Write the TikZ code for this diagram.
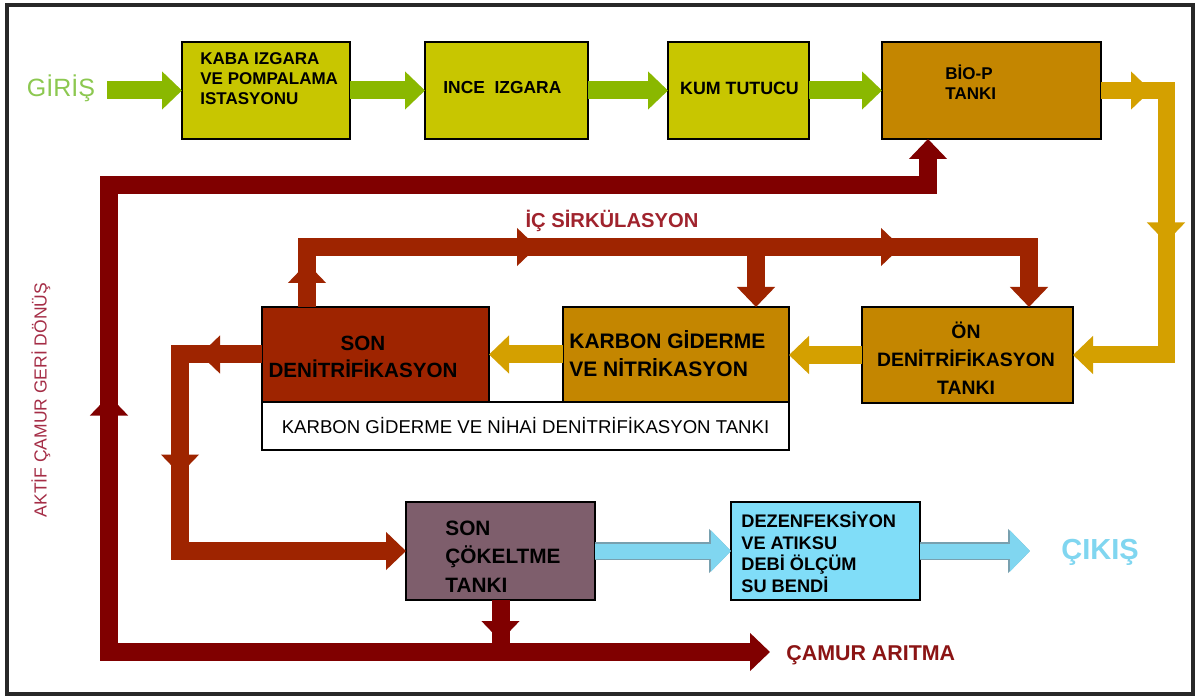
\documentclass[tikz,border=0pt]{standalone}
\usepackage{fontspec}
\setmainfont{Liberation Sans}
\usetikzlibrary{arrows.meta,decorations.markings,calc}
\definecolor{yel}{RGB}{200,198,0}
\definecolor{grn}{RGB}{138,184,0}
\definecolor{orgbox}{RGB}{196,134,0}
\definecolor{orgarr}{RGB}{212,160,0}
\definecolor{rust}{RGB}{158,36,0}
\definecolor{dred}{RGB}{128,0,0}
\definecolor{mauve}{RGB}{126,94,108}
\definecolor{cyanbox}{RGB}{128,221,248}
\definecolor{cyanarr}{RGB}{128,214,240}
\definecolor{cyanedge}{RGB}{120,160,175}
\definecolor{girisc}{RGB}{140,200,80}
\definecolor{lblred}{RGB}{165,45,70}
\definecolor{icred}{RGB}{160,35,45}
\definecolor{camurc}{RGB}{139,20,20}
\definecolor{frame}{RGB}{40,40,40}
\begin{document}
\begin{tikzpicture}[x=0.5pt,y=-0.5pt,
  box/.style={draw=black, line width=1.4pt, inner sep=0pt, outer sep=0pt, anchor=north west},
  txt/.style={inner sep=0pt, text=black},
  flow/.style={line width=9pt, line join=miter},
  tip/.style={-{Triangle[length=10pt,width=18.5pt]}},
  mid/.style={postaction={decorate,decoration={markings,mark=at position #1 with {\arrow{Triangle[length=10pt,width=18.5pt]}}}}},
  bedge/.style={line width=8.6pt, draw=cyanedge, -{Triangle[length=11pt,width=21.5pt]}},
  bflow/.style={line width=7.5pt, draw=cyanarr, -{Triangle[length=10pt,width=20pt]}},
]
\useasboundingbox (0,0) rectangle (1197,699);
\fill[white] (0,0) rectangle (1197,699);
\draw[line width=1.6pt, draw=frame] (7,5) rectangle (1193,694);

% boxes
\node[box, fill=yel, minimum width=84pt, minimum height=48.5pt] (kaba) at (182,42) {};
\node[box, fill=yel, minimum width=81.5pt, minimum height=48.5pt] (ince) at (425,42) {};
\node[box, fill=yel, minimum width=70.5pt, minimum height=48.5pt] (kum) at (668,42) {};
\node[box, fill=orgbox, minimum width=109.5pt, minimum height=48.5pt] (biop) at (882,42) {};
\node[box, fill=orgbox, minimum width=105.5pt, minimum height=48pt] (on) at (862,307) {};
\node[box, fill=orgbox, minimum width=113pt, minimum height=47.5pt] (karbon) at (563,307) {};
\node[box, fill=rust, minimum width=113.5pt, minimum height=47.5pt] (sonden) at (262,307) {};
\node[box, fill=white, minimum width=263.5pt, minimum height=24pt,
      font=\fontsize{9.3}{11}\selectfont] (nihai) at (262,402) {KARBON GİDERME VE NİHAİ DENİTRİFİKASYON TANKI};
\node[box, fill=mauve, minimum width=94.5pt, minimum height=49pt] (cokelt) at (406,502) {};
\node[box, fill=cyanbox, minimum width=94.5pt, minimum height=49pt] (dez) at (731,502) {};

% box texts
\node[txt, anchor=west, align=left, font=\bfseries\fontsize{8.5}{10}\selectfont] (kabaT) at (200,78.5) {KABA IZGARA\\VE POMPALAMA\\ISTASYONU};
\node[txt, anchor=west, font=\bfseries\fontsize{8.7}{10}\selectfont] (inceT) at (443,88) {INCE\ \ IZGARA};
\node[txt, font=\bfseries\fontsize{8.9}{10}\selectfont] (kumT) at (739.5,88) {KUM TUTUCU};
\node[txt, anchor=west, align=left, font=\bfseries\fontsize{8.5}{10}\selectfont] (biopT) at (945,82) {BİO-P\\TANKI};
\node[txt, align=center, font=\bfseries\fontsize{9.7}{14}\selectfont] (onT) at (966,358) {ÖN\\DENİTRİFİKASYON\\TANKI};
\node[txt, anchor=west, align=left, font=\bfseries\fontsize{10.5}{14}\selectfont] (karbonT) at (569,354) {KARBON GİDERME\\VE NİTRİKASYON};
\node[txt, align=center, font=\bfseries\fontsize{10.3}{13.5}\selectfont] (sondenT) at (363,357) {SON\\DENİTRİFİKASYON};
\node[txt, anchor=west, align=left, font=\bfseries\fontsize{10.4}{14.25}\selectfont] (cokeltT) at (445,556.5) {SON\\ÇÖKELTME\\TANKI};
\node[txt, anchor=west, align=left, font=\bfseries\fontsize{9.1}{10.75}\selectfont] (dezT) at (741,552.5) {DEZENFEKSİYON\\VE ATIKSU\\DEBİ ÖLÇÜM\\SU BENDİ};

% free labels
\node[txt, text=girisc, font=\fontsize{12.5}{14}\selectfont] (giris) at (61,88) {GİRİŞ};
\node[txt, text=cyanarr, font=\bfseries\fontsize{14.5}{16}\selectfont] (cikis) at (1100,552) {ÇIKIŞ};
\node[txt, text=icred, font=\bfseries\fontsize{10.1}{12}\selectfont] (ic) at (612,221) {İÇ SİRKÜLASYON};
\node[txt, text=camurc, font=\bfseries\fontsize{10.7}{12}\selectfont, anchor=west] (camur) at (786,655) {ÇAMUR ARITMA};
\node[txt, text=lblred, rotate=90, font=\fontsize{8.75}{10}\selectfont] (aktif) at (41,400) {AKTİF ÇAMUR GERİ DÖNÜŞ};

% coordinates
\coordinate (in) at (107,90.5);
\coordinate (oc) at (1166,90.5);
\coordinate (rc) at (180,0);
\coordinate (icl) at (307,247);
\coordinate (icr) at (1029,247);
\coordinate (icb) at (756,247);
\coordinate (bl) at (109,652);
\coordinate (tl) at (109,185);
\coordinate (br) at (928,185);
\coordinate (out) at (1030,551);

% green flow
\draw[flow, tip, draw=grn] (in) -- (kaba.west);
\draw[flow, tip, draw=grn] (kaba.east) -- (ince.west);
\draw[flow, tip, draw=grn] (ince.east) -- (kum.west);
\draw[flow, tip, draw=grn] (kum.east) -- (biop.west);

% orange flow
\draw[flow, tip, draw=orgarr, line width=8.5pt, mid=25pt, mid=108.5pt]
  (biop.east) -- (oc) -- (oc |- on.east) -- (on.east);
\draw[flow, tip, draw=orgarr] (on.west) -- (on.west -| karbon.east);
\draw[flow, tip, draw=orgarr] (karbon.west) -- (karbon.west -| sonden.east);

% rust flows
\draw[flow, tip, draw=rust, mid=31pt, mid=101pt]
  (sonden.west) -- (sonden.west -| rc) -- (rc |- cokelt.west) -- (cokelt.west);
\draw[flow, tip, draw=rust, mid=22pt, mid=145pt, mid=327pt]
  (sonden.north -| icl) -- (icl) -- (icr) -- (icr |- on.north);
\draw[flow, tip, draw=rust] (icb) -- (icb |- karbon.north);

% dark red sludge
\draw[flow, draw=dred, mid=20.5pt] (cokelt.south) -- (cokelt.south |- bl);
\draw[flow, tip, draw=dred, mid=324pt]
  (cokelt.south |- bl) -- (bl) -- (tl) -- (br) -- (br |- biop.south);
\draw[flow, tip, draw=dred] (bl) -- ($(bl -| camur.west)+(-16,0)$);

% blue flow
\draw[bedge] (cokelt.east) -- (dez.west);
\draw[bflow] (cokelt.east) -- (dez.west);
\draw[bedge] (dez.east) -- (out);
\draw[bflow] (dez.east) -- (out);
\end{tikzpicture}
\end{document}
